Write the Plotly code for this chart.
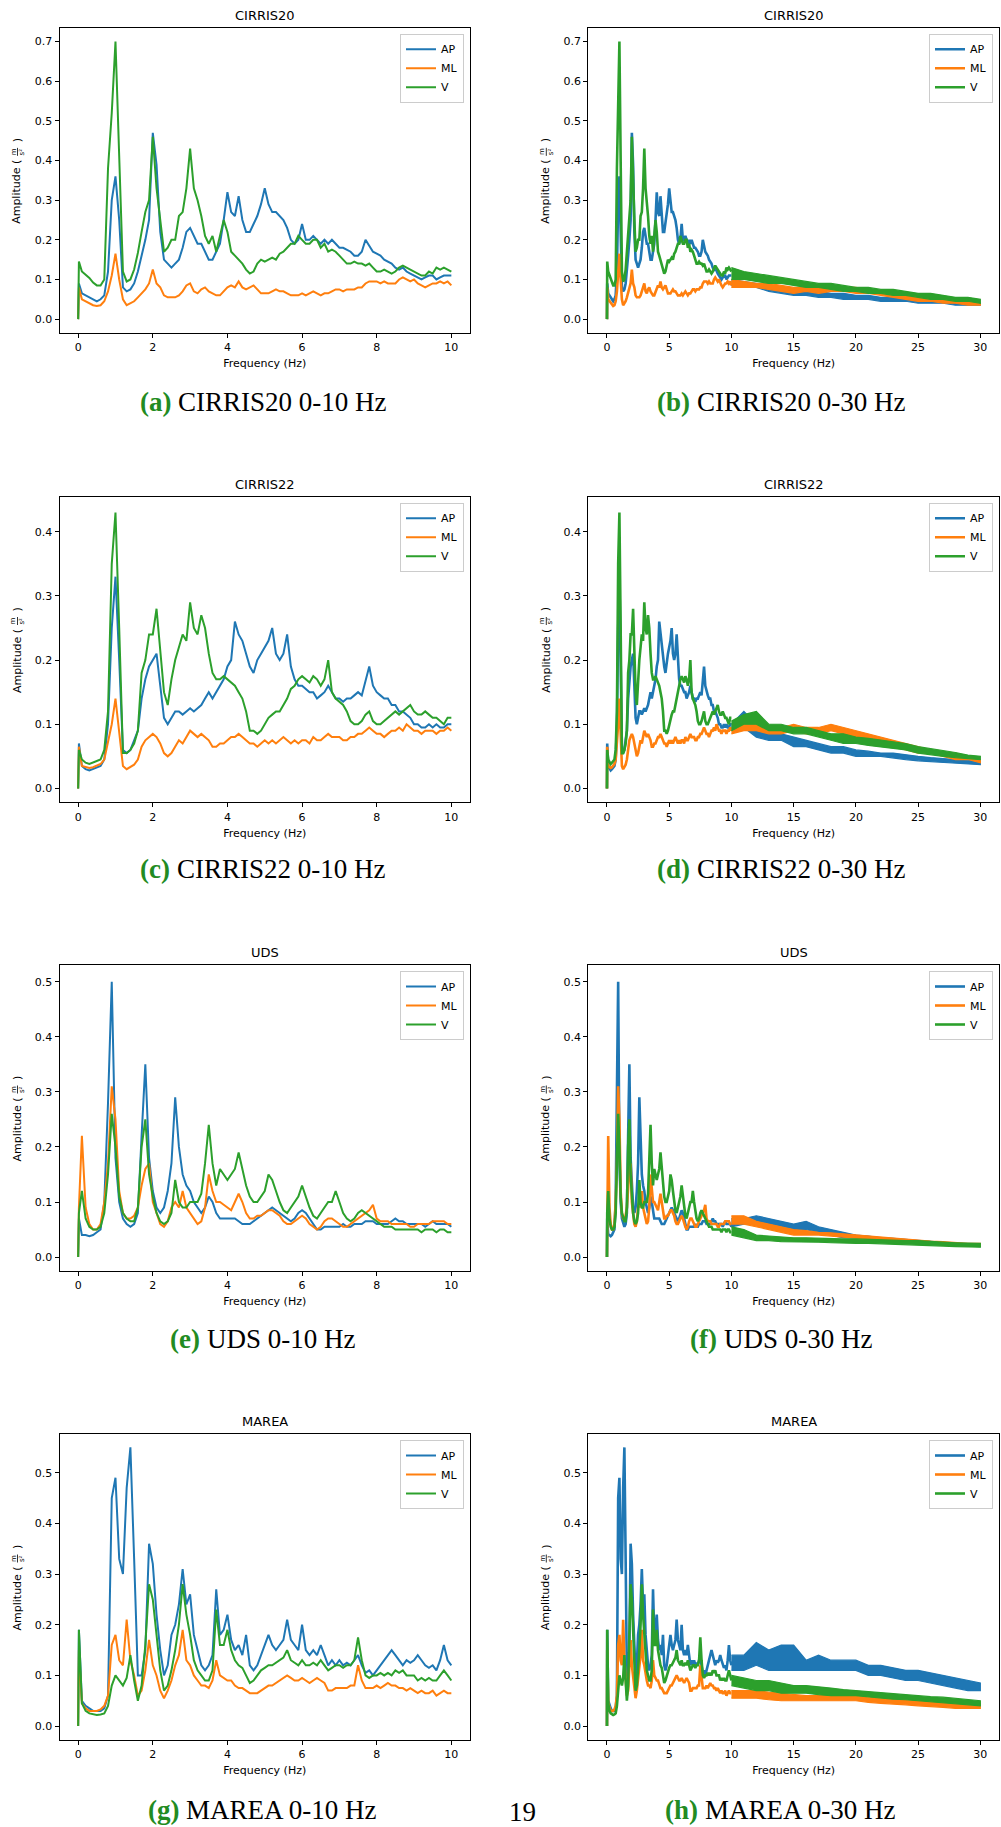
import plotly.graph_objects as go

W, H = 1001, 1827

# ---------------- data ----------------
freq_fine = [0.0, 0.02] + [round(0.1 * i, 1) for i in range(1, 101)]   # 0-10 Hz grid
freq_tail = list(range(10, 31))                                        # 10-30 Hz grid

# CIRRIS20
c20_ap = [0.0, 0.09,
          0.065, 0.06, 0.055, 0.05, 0.045, 0.05, 0.06, 0.12, 0.30, 0.36,
          0.25, 0.08, 0.07, 0.075, 0.09, 0.12, 0.16, 0.20, 0.25, 0.47,
          0.39, 0.22, 0.15, 0.14, 0.13, 0.14, 0.15, 0.18, 0.22, 0.23,
          0.21, 0.19, 0.19, 0.17, 0.15, 0.15, 0.17, 0.19, 0.25, 0.32,
          0.27, 0.26, 0.31, 0.25, 0.22, 0.22, 0.24, 0.26, 0.29, 0.33,
          0.29, 0.27, 0.27, 0.26, 0.25, 0.23, 0.20, 0.19, 0.20, 0.24,
          0.20, 0.20, 0.21, 0.20, 0.19, 0.20, 0.19, 0.20, 0.19, 0.18,
          0.18, 0.175, 0.17, 0.16, 0.16, 0.17, 0.20, 0.185, 0.17, 0.165,
          0.16, 0.15, 0.145, 0.14, 0.13, 0.125, 0.13, 0.12, 0.115, 0.11,
          0.105, 0.10, 0.105, 0.11, 0.11, 0.10, 0.105, 0.11, 0.11, 0.11]
c20_ml = [0.0, 0.08,
          0.05, 0.045, 0.04, 0.035, 0.033, 0.035, 0.045, 0.07, 0.11, 0.165,
          0.10, 0.05, 0.035, 0.04, 0.045, 0.055, 0.065, 0.075, 0.09, 0.125,
          0.09, 0.08, 0.06, 0.055, 0.055, 0.055, 0.06, 0.07, 0.085, 0.09,
          0.07, 0.065, 0.075, 0.08, 0.07, 0.065, 0.06, 0.06, 0.07, 0.08,
          0.085, 0.08, 0.095, 0.08, 0.075, 0.08, 0.085, 0.075, 0.065, 0.065,
          0.065, 0.07, 0.075, 0.07, 0.07, 0.065, 0.06, 0.06, 0.06, 0.065,
          0.06, 0.065, 0.07, 0.065, 0.06, 0.065, 0.065, 0.07, 0.075, 0.075,
          0.07, 0.075, 0.075, 0.075, 0.08, 0.08, 0.09, 0.095, 0.095, 0.095,
          0.09, 0.095, 0.09, 0.09, 0.09, 0.10, 0.105, 0.10, 0.095, 0.10,
          0.09, 0.085, 0.08, 0.085, 0.09, 0.09, 0.095, 0.09, 0.095, 0.085]
c20_v = [0.0, 0.145,
         0.12, 0.112, 0.104, 0.092, 0.085, 0.085, 0.10, 0.38, 0.52, 0.70,
         0.40, 0.12, 0.095, 0.10, 0.125, 0.167, 0.22, 0.27, 0.30, 0.46,
         0.33, 0.25, 0.17, 0.18, 0.20, 0.20, 0.26, 0.27, 0.33, 0.43,
         0.33, 0.30, 0.26, 0.21, 0.19, 0.21, 0.17, 0.21, 0.25, 0.22,
         0.17, 0.16, 0.15, 0.14, 0.125, 0.115, 0.12, 0.14, 0.15, 0.145,
         0.15, 0.155, 0.15, 0.165, 0.17, 0.18, 0.19, 0.19, 0.21, 0.20,
         0.19, 0.19, 0.20, 0.20, 0.18, 0.19, 0.17, 0.175, 0.17, 0.16,
         0.15, 0.14, 0.14, 0.145, 0.14, 0.14, 0.135, 0.14, 0.13, 0.12,
         0.12, 0.125, 0.12, 0.115, 0.12, 0.13, 0.135, 0.13, 0.125, 0.12,
         0.115, 0.11, 0.11, 0.12, 0.115, 0.13, 0.125, 0.13, 0.125, 0.12]
c20_ap_lo = [0.085, 0.08, 0.08, 0.07, 0.065, 0.06, 0.06, 0.055, 0.055, 0.05, 0.05,
             0.05, 0.045, 0.045, 0.045, 0.04, 0.04, 0.04, 0.035, 0.035, 0.035]
c20_ap_hi = [0.10, 0.095, 0.09, 0.085, 0.08, 0.075, 0.07, 0.07, 0.065, 0.065, 0.06,
             0.06, 0.055, 0.055, 0.05, 0.05, 0.05, 0.045, 0.045, 0.045, 0.04]
c20_ml_lo = [0.08, 0.08, 0.08, 0.075, 0.07, 0.065, 0.07, 0.065, 0.07, 0.07, 0.065,
             0.065, 0.06, 0.055, 0.05, 0.045, 0.045, 0.04, 0.04, 0.035, 0.035]
c20_ml_hi = [0.10, 0.095, 0.09, 0.09, 0.085, 0.08, 0.08, 0.08, 0.085, 0.08, 0.08,
             0.075, 0.07, 0.065, 0.06, 0.055, 0.05, 0.05, 0.045, 0.045, 0.04]
c20_v_lo = [0.10, 0.10, 0.095, 0.09, 0.09, 0.085, 0.08, 0.08, 0.075, 0.07, 0.07,
            0.065, 0.065, 0.06, 0.06, 0.055, 0.05, 0.05, 0.045, 0.045, 0.04]
c20_v_hi = [0.13, 0.12, 0.115, 0.11, 0.105, 0.10, 0.095, 0.09, 0.09, 0.085, 0.08,
            0.08, 0.075, 0.075, 0.07, 0.065, 0.065, 0.06, 0.055, 0.055, 0.05]

# CIRRIS22
c22_ap = [0.0, 0.07,
          0.035, 0.03, 0.028, 0.03, 0.032, 0.035, 0.045, 0.10, 0.25, 0.33,
          0.20, 0.06, 0.055, 0.06, 0.075, 0.09, 0.14, 0.17, 0.19, 0.20,
          0.21, 0.16, 0.11, 0.10, 0.11, 0.12, 0.12, 0.115, 0.12, 0.125,
          0.12, 0.125, 0.13, 0.14, 0.15, 0.14, 0.15, 0.16, 0.17, 0.19,
          0.20, 0.26, 0.24, 0.23, 0.21, 0.19, 0.18, 0.20, 0.21, 0.22,
          0.23, 0.25, 0.21, 0.20, 0.21, 0.24, 0.19, 0.17, 0.16, 0.16,
          0.155, 0.15, 0.15, 0.14, 0.145, 0.15, 0.16, 0.15, 0.14, 0.14,
          0.135, 0.14, 0.14, 0.145, 0.15, 0.145, 0.17, 0.19, 0.16, 0.15,
          0.145, 0.14, 0.14, 0.13, 0.13, 0.12, 0.12, 0.115, 0.11, 0.10,
          0.10, 0.095, 0.095, 0.10, 0.095, 0.10, 0.095, 0.095, 0.10, 0.10]
c22_ml = [0.0, 0.065,
          0.035, 0.033, 0.032, 0.033, 0.035, 0.038, 0.045, 0.07, 0.10, 0.14,
          0.09, 0.035, 0.03, 0.033, 0.037, 0.045, 0.065, 0.075, 0.08, 0.085,
          0.08, 0.07, 0.055, 0.05, 0.055, 0.065, 0.075, 0.07, 0.08, 0.09,
          0.085, 0.08, 0.085, 0.08, 0.075, 0.065, 0.065, 0.07, 0.07, 0.075,
          0.08, 0.08, 0.085, 0.08, 0.075, 0.07, 0.07, 0.065, 0.07, 0.075,
          0.07, 0.075, 0.07, 0.075, 0.08, 0.075, 0.07, 0.075, 0.07, 0.075,
          0.075, 0.07, 0.08, 0.075, 0.075, 0.08, 0.085, 0.08, 0.08, 0.08,
          0.075, 0.075, 0.08, 0.08, 0.085, 0.085, 0.09, 0.095, 0.09, 0.085,
          0.085, 0.08, 0.085, 0.09, 0.09, 0.095, 0.09, 0.10, 0.095, 0.09,
          0.09, 0.085, 0.09, 0.09, 0.09, 0.085, 0.09, 0.09, 0.095, 0.09]
c22_v = [0.0, 0.06,
         0.045, 0.04, 0.038, 0.04, 0.042, 0.045, 0.06, 0.12, 0.35, 0.43,
         0.25, 0.055, 0.055, 0.06, 0.07, 0.09, 0.18, 0.20, 0.24, 0.24,
         0.28, 0.22, 0.15, 0.13, 0.17, 0.20, 0.22, 0.24, 0.23, 0.29,
         0.25, 0.24, 0.27, 0.25, 0.21, 0.18, 0.17, 0.17, 0.175, 0.17,
         0.165, 0.16, 0.15, 0.14, 0.12, 0.09, 0.09, 0.085, 0.09, 0.10,
         0.11, 0.115, 0.12, 0.12, 0.13, 0.14, 0.155, 0.16, 0.17, 0.175,
         0.17, 0.165, 0.175, 0.17, 0.16, 0.17, 0.20, 0.15, 0.14, 0.135,
         0.13, 0.12, 0.105, 0.10, 0.10, 0.105, 0.115, 0.12, 0.105, 0.10,
         0.10, 0.105, 0.11, 0.115, 0.12, 0.115, 0.12, 0.125, 0.13, 0.12,
         0.115, 0.115, 0.12, 0.115, 0.11, 0.11, 0.105, 0.10, 0.11, 0.11]
c22_ap_lo = [0.09, 0.095, 0.08, 0.075, 0.075, 0.065, 0.065, 0.06, 0.055, 0.055, 0.05,
             0.05, 0.05, 0.048, 0.045, 0.043, 0.042, 0.04, 0.04, 0.038, 0.037]
c22_ap_hi = [0.10, 0.12, 0.10, 0.085, 0.085, 0.08, 0.075, 0.07, 0.065, 0.065, 0.06,
             0.058, 0.055, 0.055, 0.052, 0.05, 0.048, 0.046, 0.045, 0.044, 0.042]
c22_ml_lo = [0.085, 0.09, 0.09, 0.085, 0.085, 0.09, 0.085, 0.085, 0.09, 0.085, 0.08,
             0.075, 0.07, 0.065, 0.06, 0.055, 0.055, 0.05, 0.045, 0.045, 0.04]
c22_ml_hi = [0.095, 0.10, 0.10, 0.095, 0.095, 0.10, 0.095, 0.095, 0.10, 0.095, 0.09,
             0.085, 0.08, 0.075, 0.07, 0.065, 0.06, 0.055, 0.055, 0.05, 0.045]
c22_v_lo = [0.09, 0.10, 0.10, 0.09, 0.09, 0.085, 0.085, 0.08, 0.075, 0.07, 0.07,
            0.067, 0.065, 0.062, 0.06, 0.055, 0.053, 0.05, 0.048, 0.046, 0.045]
c22_v_hi = [0.105, 0.115, 0.12, 0.10, 0.10, 0.095, 0.095, 0.09, 0.085, 0.085, 0.08,
            0.078, 0.075, 0.072, 0.07, 0.065, 0.062, 0.06, 0.056, 0.052, 0.05]

# UDS
uds_ap = [0.0, 0.07,
          0.04, 0.04, 0.038, 0.04, 0.045, 0.05, 0.10, 0.28, 0.50, 0.18,
          0.10, 0.07, 0.06, 0.055, 0.06, 0.08, 0.22, 0.35, 0.18, 0.12,
          0.09, 0.08, 0.09, 0.12, 0.17, 0.29, 0.20, 0.15, 0.13, 0.12,
          0.10, 0.09, 0.08, 0.09, 0.11, 0.10, 0.08, 0.07, 0.07, 0.07,
          0.07, 0.07, 0.065, 0.06, 0.06, 0.06, 0.065, 0.07, 0.075, 0.08,
          0.085, 0.09, 0.085, 0.08, 0.075, 0.07, 0.065, 0.07, 0.08, 0.085,
          0.08, 0.07, 0.06, 0.05, 0.05, 0.055, 0.055, 0.055, 0.055, 0.055,
          0.06, 0.055, 0.055, 0.06, 0.06, 0.06, 0.065, 0.065, 0.065, 0.06,
          0.06, 0.06, 0.06, 0.065, 0.07, 0.065, 0.065, 0.06, 0.06, 0.06,
          0.06, 0.06, 0.055, 0.06, 0.065, 0.06, 0.06, 0.06, 0.06, 0.055]
uds_ml = [0.0, 0.09,
          0.22, 0.09, 0.06, 0.05, 0.05, 0.06, 0.10, 0.17, 0.31, 0.25,
          0.12, 0.08, 0.07, 0.07, 0.075, 0.09, 0.13, 0.16, 0.17, 0.10,
          0.08, 0.06, 0.055, 0.065, 0.09, 0.10, 0.09, 0.12, 0.09, 0.08,
          0.07, 0.06, 0.065, 0.09, 0.15, 0.12, 0.10, 0.10, 0.095, 0.09,
          0.085, 0.10, 0.115, 0.10, 0.08, 0.07, 0.07, 0.075, 0.075, 0.08,
          0.085, 0.085, 0.08, 0.075, 0.065, 0.06, 0.06, 0.065, 0.07, 0.075,
          0.07, 0.06, 0.055, 0.05, 0.055, 0.065, 0.07, 0.07, 0.065, 0.06,
          0.055, 0.055, 0.06, 0.065, 0.07, 0.075, 0.08, 0.085, 0.095, 0.07,
          0.065, 0.065, 0.065, 0.06, 0.06, 0.06, 0.06, 0.06, 0.055, 0.055,
          0.06, 0.06, 0.06, 0.06, 0.065, 0.065, 0.065, 0.065, 0.06, 0.06]
uds_v = [0.0, 0.08,
         0.12, 0.07, 0.055, 0.05, 0.05, 0.055, 0.08, 0.15, 0.26, 0.20,
         0.11, 0.08, 0.07, 0.065, 0.065, 0.09, 0.20, 0.25, 0.15, 0.11,
         0.08, 0.065, 0.06, 0.065, 0.08, 0.14, 0.10, 0.09, 0.09, 0.10,
         0.10, 0.10, 0.115, 0.17, 0.24, 0.17, 0.13, 0.16, 0.15, 0.14,
         0.15, 0.16, 0.19, 0.16, 0.13, 0.11, 0.10, 0.10, 0.11, 0.12,
         0.15, 0.14, 0.12, 0.10, 0.085, 0.08, 0.09, 0.10, 0.11, 0.13,
         0.11, 0.09, 0.075, 0.07, 0.08, 0.09, 0.10, 0.10, 0.12, 0.10,
         0.08, 0.07, 0.065, 0.07, 0.08, 0.085, 0.08, 0.075, 0.07, 0.065,
         0.06, 0.055, 0.055, 0.055, 0.05, 0.05, 0.05, 0.05, 0.05, 0.05,
         0.05, 0.045, 0.05, 0.05, 0.05, 0.045, 0.05, 0.05, 0.045, 0.045]
uds_ap_lo = [0.055, 0.06, 0.06, 0.06, 0.055, 0.05, 0.05, 0.045, 0.04, 0.035, 0.035,
             0.032, 0.03, 0.028, 0.027, 0.025, 0.023, 0.022, 0.02, 0.02, 0.019]
uds_ap_hi = [0.07, 0.07, 0.075, 0.07, 0.065, 0.06, 0.065, 0.055, 0.05, 0.045, 0.04,
             0.038, 0.035, 0.034, 0.032, 0.03, 0.028, 0.026, 0.025, 0.024, 0.023]
uds_ml_lo = [0.06, 0.06, 0.055, 0.05, 0.045, 0.04, 0.04, 0.04, 0.038, 0.036, 0.035,
             0.033, 0.03, 0.029, 0.027, 0.025, 0.024, 0.022, 0.021, 0.02, 0.02]
uds_ml_hi = [0.075, 0.075, 0.065, 0.06, 0.055, 0.05, 0.048, 0.045, 0.044, 0.042, 0.04,
             0.039, 0.037, 0.035, 0.033, 0.03, 0.029, 0.028, 0.026, 0.025, 0.025]
uds_v_lo = [0.04, 0.035, 0.03, 0.03, 0.028, 0.028, 0.027, 0.027, 0.026, 0.025, 0.025,
            0.025, 0.024, 0.023, 0.022, 0.022, 0.021, 0.02, 0.019, 0.018, 0.018]
uds_v_hi = [0.055, 0.05, 0.04, 0.038, 0.036, 0.035, 0.035, 0.034, 0.034, 0.033, 0.033,
            0.032, 0.032, 0.031, 0.03, 0.03, 0.028, 0.027, 0.026, 0.025, 0.025]

# MAREA
marea_ap = [0.0, 0.19,
            0.05, 0.04, 0.035, 0.03, 0.03, 0.03, 0.035, 0.06, 0.45, 0.49,
            0.33, 0.30, 0.47, 0.55, 0.33, 0.10, 0.10, 0.15, 0.36, 0.32,
            0.22, 0.15, 0.10, 0.12, 0.18, 0.20, 0.24, 0.31, 0.24, 0.26,
            0.18, 0.15, 0.12, 0.11, 0.12, 0.14, 0.27, 0.18, 0.19, 0.22,
            0.17, 0.15, 0.16, 0.14, 0.18, 0.12, 0.11, 0.12, 0.14, 0.16,
            0.18, 0.16, 0.15, 0.16, 0.17, 0.21, 0.17, 0.16, 0.15, 0.20,
            0.15, 0.14, 0.15, 0.14, 0.16, 0.14, 0.12, 0.13, 0.12, 0.13,
            0.12, 0.125, 0.12, 0.13, 0.14, 0.12, 0.105, 0.11, 0.10, 0.11,
            0.12, 0.13, 0.14, 0.15, 0.14, 0.13, 0.12, 0.13, 0.125, 0.13,
            0.14, 0.13, 0.12, 0.115, 0.12, 0.11, 0.13, 0.16, 0.13, 0.12]
marea_ml = [0.0, 0.15,
            0.045, 0.035, 0.03, 0.03, 0.03, 0.033, 0.04, 0.06, 0.16, 0.18,
            0.13, 0.12, 0.21, 0.13, 0.10, 0.06, 0.07, 0.11, 0.17, 0.12,
            0.10, 0.07, 0.055, 0.07, 0.09, 0.12, 0.14, 0.19, 0.13, 0.12,
            0.10, 0.09, 0.08, 0.08, 0.075, 0.09, 0.13, 0.10, 0.095, 0.09,
            0.09, 0.08, 0.075, 0.075, 0.07, 0.065, 0.065, 0.065, 0.07, 0.075,
            0.08, 0.08, 0.085, 0.09, 0.095, 0.10, 0.095, 0.09, 0.09, 0.095,
            0.09, 0.085, 0.09, 0.095, 0.09, 0.085, 0.07, 0.07, 0.075, 0.075,
            0.075, 0.075, 0.08, 0.08, 0.12, 0.09, 0.075, 0.075, 0.075, 0.08,
            0.075, 0.08, 0.085, 0.08, 0.08, 0.075, 0.075, 0.07, 0.075, 0.07,
            0.065, 0.07, 0.065, 0.065, 0.07, 0.06, 0.065, 0.07, 0.065, 0.065]
marea_v = [0.0, 0.19,
           0.045, 0.03, 0.025, 0.023, 0.022, 0.023, 0.025, 0.04, 0.08, 0.10,
           0.09, 0.08, 0.095, 0.14, 0.09, 0.05, 0.08, 0.16, 0.28, 0.25,
           0.18, 0.11, 0.07, 0.08, 0.11, 0.15, 0.20, 0.28, 0.22, 0.18,
           0.13, 0.11, 0.10, 0.09, 0.09, 0.11, 0.23, 0.16, 0.16, 0.19,
           0.15, 0.13, 0.12, 0.115, 0.10, 0.085, 0.09, 0.10, 0.11, 0.115,
           0.12, 0.12, 0.125, 0.13, 0.135, 0.15, 0.13, 0.125, 0.12, 0.13,
           0.12, 0.12, 0.125, 0.12, 0.13, 0.12, 0.11, 0.115, 0.12, 0.12,
           0.115, 0.12, 0.12, 0.13, 0.175, 0.13, 0.10, 0.095, 0.10, 0.10,
           0.105, 0.10, 0.105, 0.10, 0.11, 0.105, 0.11, 0.10, 0.10, 0.10,
           0.09, 0.095, 0.09, 0.095, 0.09, 0.09, 0.10, 0.11, 0.10, 0.09]
marea_ap_lo = [0.11, 0.11, 0.12, 0.11, 0.11, 0.11, 0.11, 0.11, 0.11, 0.11, 0.11,
               0.10, 0.10, 0.095, 0.09, 0.09, 0.085, 0.08, 0.075, 0.07, 0.07]
marea_ap_hi = [0.14, 0.14, 0.165, 0.15, 0.16, 0.16, 0.13, 0.14, 0.13, 0.13, 0.13,
               0.12, 0.12, 0.115, 0.11, 0.11, 0.105, 0.10, 0.095, 0.09, 0.085]
marea_ml_lo = [0.055, 0.055, 0.055, 0.052, 0.05, 0.05, 0.05, 0.05, 0.05, 0.05, 0.05,
               0.047, 0.045, 0.043, 0.042, 0.04, 0.038, 0.037, 0.035, 0.035, 0.035]
marea_ml_hi = [0.07, 0.07, 0.07, 0.067, 0.065, 0.062, 0.06, 0.06, 0.06, 0.06, 0.06,
               0.057, 0.055, 0.053, 0.052, 0.05, 0.048, 0.047, 0.045, 0.045, 0.045]
marea_v_lo = [0.08, 0.075, 0.07, 0.07, 0.065, 0.065, 0.065, 0.062, 0.06, 0.06, 0.06,
              0.057, 0.055, 0.053, 0.052, 0.05, 0.048, 0.047, 0.045, 0.042, 0.04]
marea_v_hi = [0.10, 0.095, 0.09, 0.09, 0.085, 0.08, 0.08, 0.078, 0.075, 0.072, 0.07,
              0.067, 0.065, 0.063, 0.062, 0.06, 0.058, 0.057, 0.055, 0.052, 0.05]

dataset_names = ["CIRRIS20", "CIRRIS22", "UDS", "MAREA"]
series_names = ["AP", "ML", "V"]
y_max = [0.70, 0.433, 0.505, 0.549]
captions = ["CIRRIS20 0-10 Hz", "CIRRIS20 0-30 Hz", "CIRRIS22 0-10 Hz", "CIRRIS22 0-30 Hz",
            "UDS 0-10 Hz", "UDS 0-30 Hz", "MAREA 0-10 Hz", "MAREA 0-30 Hz"]
caption_letters = ["a", "b", "c", "d", "e", "f", "g", "h"]
page_number = "19"

DATA = {
    "CIRRIS20": {"AP": (c20_ap, c20_ap_lo, c20_ap_hi), "ML": (c20_ml, c20_ml_lo, c20_ml_hi),
                 "V": (c20_v, c20_v_lo, c20_v_hi)},
    "CIRRIS22": {"AP": (c22_ap, c22_ap_lo, c22_ap_hi), "ML": (c22_ml, c22_ml_lo, c22_ml_hi),
                 "V": (c22_v, c22_v_lo, c22_v_hi)},
    "UDS": {"AP": (uds_ap, uds_ap_lo, uds_ap_hi), "ML": (uds_ml, uds_ml_lo, uds_ml_hi),
            "V": (uds_v, uds_v_lo, uds_v_hi)},
    "MAREA": {"AP": (marea_ap, marea_ap_lo, marea_ap_hi), "ML": (marea_ml, marea_ml_lo, marea_ml_hi),
              "V": (marea_v, marea_v_lo, marea_v_hi)},
}
for dn in dataset_names:
    for sn in series_names:
        f, lo, hi = DATA[dn][sn]
        assert len(f) == len(freq_fine), (dn, sn, len(f))
        assert len(lo) == len(freq_tail) and len(hi) == len(freq_tail), (dn, sn)

# ---------------- styling / layout ----------------
COL = {"AP": "#1f77b4", "ML": "#ff7f0e", "V": "#2ca02c"}
SANS = "DejaVu Sans"
SERIF = "Liberation Serif"
CAP_SIZE = 27
col_x = [(59.5, 470.0), (588.3, 999.0)]
row_y = [(27.7, 333.0), (496.7, 802.3), (965.0, 1271.0), (1434.0, 1740.0)]
cap_x = [262, 780]
cap_y = [402, 869, 1339, 1810]

# approximate Times advance widths (em) used only to centre the two-part captions
TW = {'C': .667, 'I': .333, 'R': .667, 'S': .556, '0': .5, '1': .5, '2': .5, '3': .5, '-': .333,
      'H': .722, 'z': .444, 'U': .722, 'D': .722, 'M': .889, 'A': .722, 'E': .611, ' ': .25}
TWB = {'(': .333, ')': .333, 'a': .5, 'b': .556, 'c': .444, 'd': .556, 'e': .444, 'f': .333,
       'g': .5, 'h': .556}


def px(x):
    return x / W


def py(y):
    return 1 - y / H


fig = go.Figure()
layout = dict(width=W, height=H, margin=dict(l=0, r=0, t=0, b=0),
              paper_bgcolor="white", plot_bgcolor="white", showlegend=True)
annotations = []
shapes = []

for i in range(8):
    r, c = divmod(i, 2)
    dn = dataset_names[r]
    n = i + 1
    sx = "" if n == 1 else str(n)
    x0, x1 = col_x[c]
    top, bot = row_y[r]
    ymx = y_max[r]
    xr = [-0.5, 10.5] if c == 0 else [-1.5, 31.5]
    axis_common = dict(showline=True, mirror=True, linecolor="black", linewidth=1,
                       ticks="outside", ticklen=4, tickwidth=1, tickcolor="black",
                       showgrid=False, zeroline=False,
                       tickfont=dict(family=SANS, size=11, color="black"))
    layout["xaxis" + sx] = dict(domain=[px(x0), px(x1)], anchor="y" + sx, range=xr,
                                tickmode="array",
                                tickvals=[0, 2, 4, 6, 8, 10] if c == 0 else [0, 5, 10, 15, 20, 25, 30],
                                title=dict(text="Frequency (Hz)", standoff=6,
                                           font=dict(family=SANS, size=11, color="black")),
                                **axis_common)
    layout["yaxis" + sx] = dict(domain=[py(bot), py(top)], anchor="x" + sx,
                                range=[-0.05 * ymx, 1.05 * ymx], tick0=0, dtick=0.1,
                                tickformat=".1f", **axis_common)
    leg = "legend" + sx
    layout[leg] = dict(x=px(x1 - 6), xanchor="right", y=py(top + 6), yanchor="top",
                       bgcolor="rgba(255,255,255,0.85)", bordercolor="#cccccc", borderwidth=1,
                       font=dict(family=SANS, size=11, color="black"), itemwidth=30,
                       tracegroupgap=0, traceorder="normal")
    for sn in series_names:
        fine, lo, hi = DATA[dn][sn]
        fig.add_trace(go.Scatter(x=freq_fine, y=fine, mode="lines", name=sn,
                                 line=dict(color=COL[sn], width=2.0 if c == 0 else 2.6),
                                 legend=leg, xaxis="x" + sx, yaxis="y" + sx))
        if c == 1:
            fig.add_trace(go.Scatter(x=freq_tail + freq_tail[::-1], y=hi + lo[::-1],
                                     mode="lines", fill="toself", fillcolor=COL[sn],
                                     line=dict(color=COL[sn], width=1.2), showlegend=False,
                                     hoverinfo="skip", legend=leg,
                                     xaxis="x" + sx, yaxis="y" + sx))
    xc = (x0 + x1) / 2
    yc = (top + bot) / 2
    # panel title
    annotations.append(dict(text=dn, x=px(xc), y=py(top), xref="paper", yref="paper",
                            xanchor="center", yanchor="bottom", yshift=3, showarrow=False,
                            font=dict(family=SANS, size=13, color="black")))
    # y label: "Amplitude ( m/s² )" with a stacked fraction, rotated
    xl = x0 - 42.5
    annotations.append(dict(text="Amplitude (", x=px(xl), y=py(yc + 11.5), xref="paper", yref="paper",
                            xanchor="center", yanchor="middle", textangle=-90, showarrow=False,
                            font=dict(family=SANS, size=11, color="black")))
    annotations.append(dict(text="m", x=px(xl - 3.6), y=py(yc - 28.5), xref="paper", yref="paper",
                            xanchor="center", yanchor="middle", textangle=-90, showarrow=False,
                            borderpad=0, font=dict(family=SANS, size=7, color="black")))
    annotations.append(dict(text="s²", x=px(xl + 4.6), y=py(yc - 28.5), xref="paper", yref="paper",
                            xanchor="center", yanchor="middle", textangle=-90, showarrow=False,
                            borderpad=0, font=dict(family=SANS, size=7, color="black")))
    annotations.append(dict(text=")", x=px(xl), y=py(yc - 40), xref="paper", yref="paper",
                            xanchor="center", yanchor="middle", textangle=-90, showarrow=False,
                            font=dict(family=SANS, size=11, color="black")))
    shapes.append(dict(type="line", xref="paper", yref="paper",
                       x0=px(xl + 0.5), x1=px(xl + 0.5), y0=py(yc - 32.5), y1=py(yc - 24.5),
                       line=dict(color="black", width=0.8)))
    # caption: green bold label + serif text
    lab = "(" + caption_letters[i] + ")"
    w_lab = sum(TWB[ch] for ch in lab) * CAP_SIZE
    w_sp = TW[' '] * CAP_SIZE
    w_txt = sum(TW[ch] for ch in captions[i]) * CAP_SIZE
    left = cap_x[c] - (w_lab + w_sp + w_txt) / 2
    annotations.append(dict(text="<b>" + lab + "</b>", x=px(left), y=py(cap_y[r]), xref="paper",
                            yref="paper", xanchor="left", yanchor="middle", showarrow=False,
                            borderpad=0, font=dict(family=SERIF, size=CAP_SIZE, color="#228b22")))
    annotations.append(dict(text=captions[i], x=px(left + w_lab + w_sp), y=py(cap_y[r]), xref="paper",
                            yref="paper", xanchor="left", yanchor="middle", showarrow=False,
                            borderpad=0, font=dict(family=SERIF, size=CAP_SIZE, color="black")))

annotations.append(dict(text=page_number, x=px(522), y=py(1812), xref="paper", yref="paper",
                        xanchor="center", yanchor="middle", showarrow=False,
                        font=dict(family=SERIF, size=27, color="black")))
layout["annotations"] = annotations
layout["shapes"] = shapes
fig.update_layout(**layout)
fig.write_html("out.html")
